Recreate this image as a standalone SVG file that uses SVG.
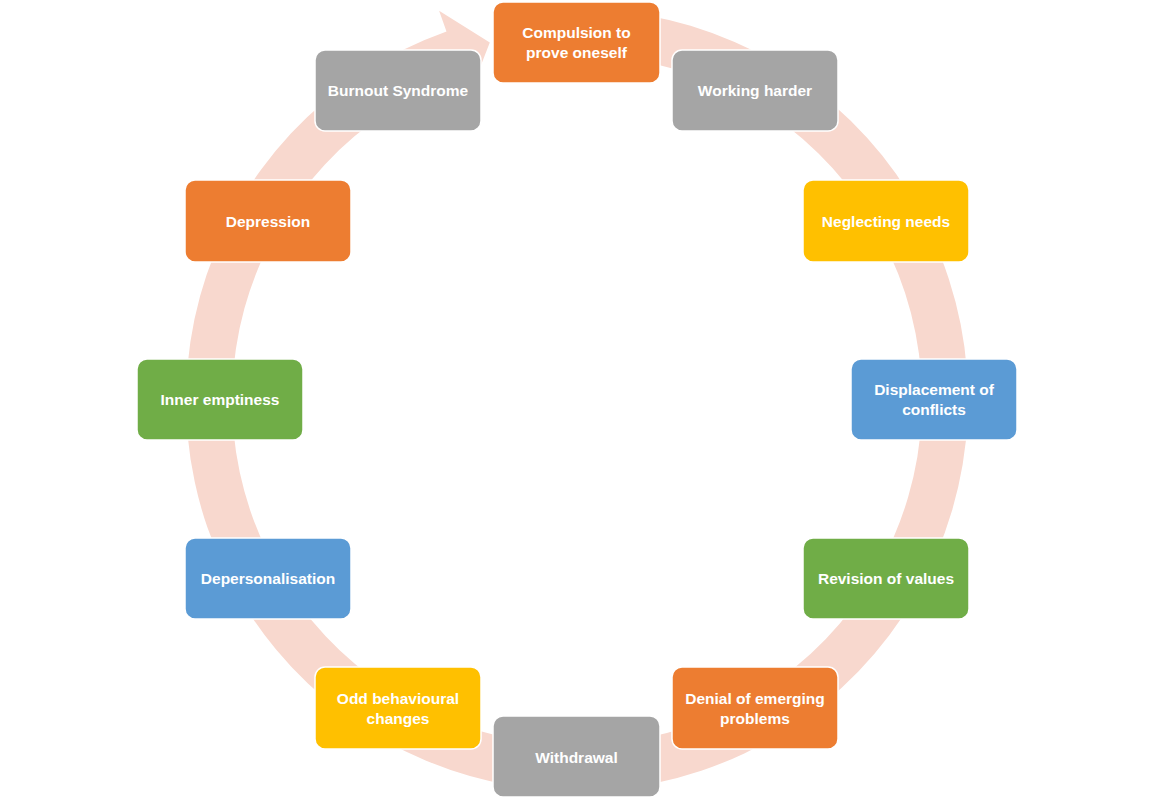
<svg xmlns="http://www.w3.org/2000/svg" width="1154" height="800" viewBox="0 0 1154 800">
<style>
.n{stroke:#ffffff;stroke-width:1.5}
.t{font-family:"Liberation Sans",Arial,sans-serif;font-weight:bold;font-size:15.5px;fill:#ffffff;text-anchor:middle}
.or{fill:#ED7D31}.gr{fill:#A5A5A5}.ye{fill:#FFC000}.bl{fill:#5B9BD5}.gn{fill:#70AD47}
</style>
<rect width="1154" height="800" fill="#ffffff"/>
<g id="connectors">
<path d="M644.9,14.9 A391,391 0 1 1 446.5,31.4 L439.1,10.7 L489.8,42.5 L469.2,95.5 L461.8,74.8 A345,345 0 1 0 636.9,60.2 Z" fill="#f8d8ce"/>
</g>
<g id="n1"><rect class="n or" x="493" y="2" width="167" height="81" rx="10"/><text class="t" x="576.5" y="37.5">Compulsion to</text><text class="t" x="576.5" y="57.5">prove oneself</text></g>
<g id="n2"><rect class="n gr" x="672" y="50" width="166" height="81" rx="10"/><text class="t" x="755" y="95.5">Working harder</text></g>
<g id="n3"><rect class="n ye" x="803" y="180" width="166" height="82" rx="10"/><text class="t" x="886" y="226.5">Neglecting needs</text></g>
<g id="n4"><rect class="n bl" x="851" y="359" width="166" height="81" rx="10"/><text class="t" x="934" y="394.5">Displacement of</text><text class="t" x="934" y="414.5">conflicts</text></g>
<g id="n5"><rect class="n gn" x="803" y="538" width="166" height="81" rx="10"/><text class="t" x="886" y="583.5">Revision of values</text></g>
<g id="n6"><rect class="n or" x="672" y="667" width="166" height="82" rx="10"/><text class="t" x="755" y="703.5">Denial of emerging</text><text class="t" x="755" y="723.5">problems</text></g>
<g id="n7"><rect class="n gr" x="493" y="716" width="167" height="81" rx="10"/><text class="t" x="576.5" y="762.5">Withdrawal</text></g>
<g id="n8"><rect class="n ye" x="315" y="667" width="166" height="82" rx="10"/><text class="t" x="398" y="703.5">Odd behavioural</text><text class="t" x="398" y="723.5">changes</text></g>
<g id="n9"><rect class="n bl" x="185" y="538" width="166" height="81" rx="10"/><text class="t" x="268" y="583.5">Depersonalisation</text></g>
<g id="n10"><rect class="n gn" x="137" y="359" width="166" height="81" rx="10"/><text class="t" x="220" y="404.5">Inner emptiness</text></g>
<g id="n11"><rect class="n or" x="185" y="180" width="166" height="82" rx="10"/><text class="t" x="268" y="226.5">Depression</text></g>
<g id="n12"><rect class="n gr" x="315" y="50" width="166" height="81" rx="10"/><text class="t" x="398" y="95.5">Burnout Syndrome</text></g>
</svg>
